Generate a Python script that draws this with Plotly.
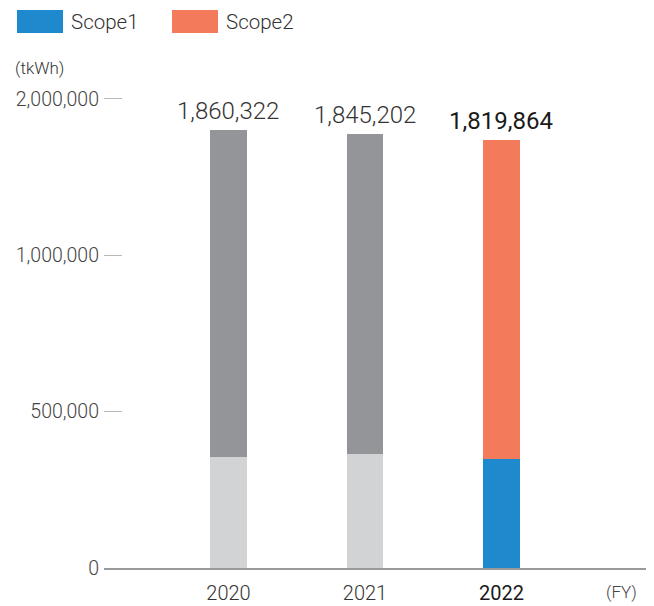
import numpy as np
import plotly.graph_objects as go

# ---- data ----
years = ["2020", "2021", "2022"]
scope1 = [356000, 366000, 350000]
totals = [1860322, 1845202, 1819864]       # labelled totals
scope2 = [t - s for t, s in zip(totals, scope1)]
ytick_values = [0, 500000, 1000000, 2000000]
ytick_labels = ["0", "500,000", "1,000,000", "2,000,000"]

scope1_colors = ["#d1d3d4", "#d1d3d4", "#1e89cc"]
scope2_colors = ["#939598", "#939598", "#f37a5b"]

# ---- broken (compressed above 1,000,000) value axis ----
_real = [0, 1000000, 1800000, 2000000]
_disp = [0, 1000000, 1356000, 1500000]


def scale(v):
    return float(np.interp(v, _real, _disp))


W, H = 654, 606
L, R, T, B = 104, 8, 68, 37.5
plot_w = W - L - R
plot_h = H - T - B
px_per_unit = 313 / 1e6
y_top = plot_h / px_per_unit

x_lo, x_hi = -0.912, 3.059


def pxx(px):
    return (px - L) / plot_w


def pxy(py):
    return (H - B - py) / plot_h


xs = list(range(len(years)))
s1_disp = [scale(v) for v in scope1]
tot_disp = [scale(v) for v in totals]
s2_disp = [t - s for t, s in zip(tot_disp, s1_disp)]

FONT = "Roboto, Liberation Sans, Arial, sans-serif"
WT = 300

fig = go.Figure()
fig.add_trace(go.Bar(x=xs, y=s1_disp, marker=dict(color=scope1_colors, line=dict(width=0)),
                     width=0.27, name="Scope1", customdata=scope1,
                     hovertemplate="%{customdata:,}<extra>Scope1</extra>"))
fig.add_trace(go.Bar(x=xs, y=s2_disp, marker=dict(color=scope2_colors, line=dict(width=0)),
                     width=0.27, name="Scope2", customdata=scope2,
                     hovertemplate="%{customdata:,}<extra>Scope2</extra>"))

for i, (t, td) in enumerate(zip(totals, tot_disp)):
    fig.add_annotation(x=xs[i], y=td, text=f"{t:,}", showarrow=False, yanchor="bottom",
                       yshift=3, font=dict(family=FONT, size=24, weight=WT if i < 2 else 400,
                                           color="#1a1a1a" if i == 2 else "#333333"))

# legend drawn as swatches + text
legend_items = [("Scope1", "#1e89cc", 17), ("Scope2", "#f37a5b", 172)]
for name, col, x0 in legend_items:
    fig.add_shape(type="rect", xref="paper", yref="paper",
                  x0=pxx(x0), x1=pxx(x0 + 46), y0=pxy(33), y1=pxy(10),
                  fillcolor=col, line=dict(width=0))
    fig.add_annotation(xref="paper", yref="paper", x=pxx(x0 + 52), y=pxy(22),
                       xanchor="left", yanchor="middle", text=name, showarrow=False,
                       font=dict(family=FONT, size=20.5, weight=WT, color="#333333"))

fig.add_annotation(xref="paper", yref="paper", x=pxx(13), y=pxy(68), xanchor="left",
                   yanchor="middle", text="(tkWh)", showarrow=False,
                   font=dict(family=FONT, size=17, weight=WT, color="#333333"))
fig.add_annotation(xref="paper", yref="paper", x=pxx(621), y=pxy(593), xanchor="center",
                   yanchor="middle", text="(FY)", showarrow=False,
                   font=dict(family=FONT, size=17, weight=WT, color="#444444"))

xt_text = [y if i < 2 else f"<span style='color:#1a1a1a;font-weight:400'>{y}</span>"
           for i, y in enumerate(years)]

fig.update_layout(
    width=W, height=H, autosize=False,
    margin=dict(l=L, r=R, t=T, b=B, pad=0),
    paper_bgcolor="white", plot_bgcolor="white",
    barmode="stack", showlegend=False,
    font=dict(family=FONT, color="#444444", weight=WT),
    xaxis=dict(range=[x_lo, x_hi], tickvals=xs, ticktext=xt_text, showgrid=False,
               zeroline=False, showline=True, linecolor="#9a9a9a", linewidth=1.5,
               ticks="", tickfont=dict(size=20, weight=WT, color="#333333"),
               ticklabelstandoff=6, automargin=False),
    yaxis=dict(range=[0, y_top], tickvals=[scale(v) for v in ytick_values],
               ticktext=ytick_labels, showgrid=False, zeroline=False, showline=False,
               ticks="inside", ticklen=18, tickcolor="#b8b8b8", tickwidth=1,
               tickfont=dict(size=19.5, weight=WT, color="#444444"), ticklabelstandoff=4,
               automargin=False),
)

fig.write_html("out.html",
               config={"responsive": False, "displayModeBar": False},
               post_script="document.body.style.margin='0';document.body.style.overflow='hidden';")
